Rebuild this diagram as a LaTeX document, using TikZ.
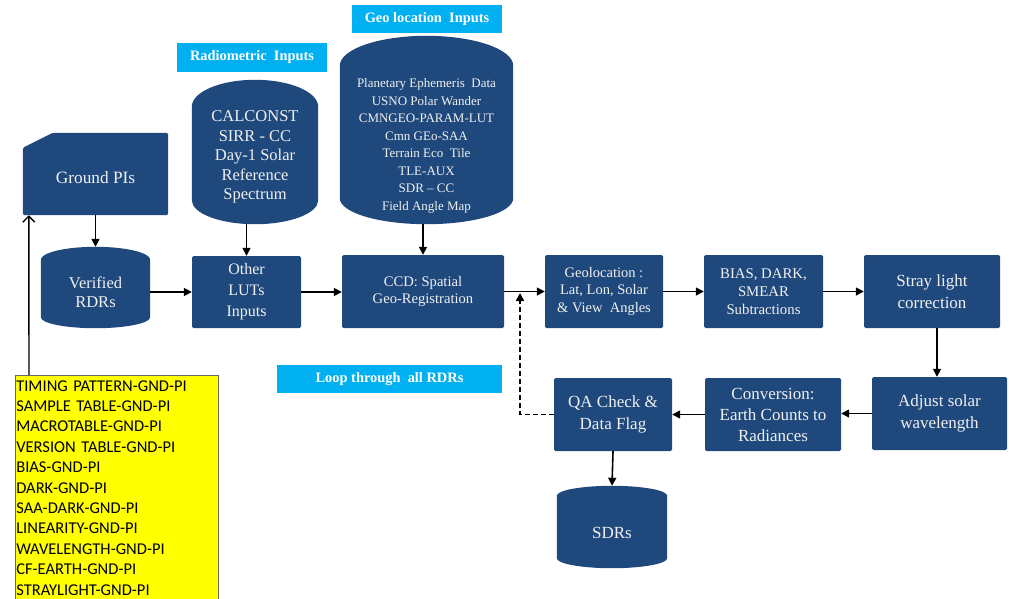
\documentclass[tikz,border=0pt]{standalone}
\usepackage{fontspec}
\setmainfont{Liberation Serif}
\newfontfamily\listfont{Carlito}
\usetikzlibrary{arrows.meta,backgrounds,calc}

\definecolor{boxblue}{RGB}{31,73,125}
\definecolor{tagcyan}{RGB}{0,176,240}
\definecolor{notefill}{RGB}{255,255,0}
\definecolor{boxtext}{RGB}{240,240,240}

\tikzset{
  proc/.style={fill=boxblue, rounded corners=1.5pt, text=boxtext, align=center, inner sep=0pt},
  store/.style={text=boxtext, align=center, inner sep=0pt},
  tag/.style={fill=tagcyan, text=white, inner sep=0pt, font=\bfseries\fontsize{14.4}{16}\selectfont},
  flow/.style={line width=1.6pt, -{Triangle[length=8pt,width=8pt]}},
  loopback/.style={flow, dash pattern=on 5pt off 3pt},
  feed/.style={line width=1.4pt, -{Straight Barb[length=6pt,width=12pt]}}
}

% filled cylinder behind a storage node:
% #1 node, #2 top radius, #3 bottom radius, #4 how far the top rises above the node
\newcommand\cylbody[4]{%
  \path let \p1=(#1.north west), \p2=(#1.south east) in
    [fill=boxblue]
    (\x1,\y1+#4-#2) -- (\x1,\y2+#3)
    arc[start angle=180, end angle=360, x radius={(\x2-\x1)/2}, y radius=#3]
    -- (\x2,\y1+#4-#2)
    arc[start angle=0, end angle=180, x radius={(\x2-\x1)/2}, y radius=#2]
    -- cycle;}

\begin{document}
\begin{tikzpicture}[x=1pt, y=-1pt]
\useasboundingbox (0,0) rectangle (1009,598);

% section tags
\node[tag, minimum width=150pt, minimum height=28pt] (geotag) at (427,19) {Geo location\ \ Inputs};
\node[tag, minimum width=150pt, minimum height=29pt] (radtag) at (252,57.5) {Radiometric\ \ Inputs};
\node[tag, minimum width=225pt, minimum height=28pt] (looptag) at (389.5,379) {Loop through\ \ all RDRs};

% inputs
\node[store, minimum width=145pt, minimum height=74pt, font=\fontsize{17.3}{20}\selectfont] (ground) at (95.5,178) {Ground PIs};
\node[store, minimum width=109pt, minimum height=71pt, font=\fontsize{16.5}{18.5}\selectfont] (ver) at (95.5,292.5) {Verified\\RDRs};
\node[store, minimum width=126pt, minimum height=134pt, font=\fontsize{16.5}{19.5}\selectfont] (calc) at (255,157)
  {CALCONST\\SIRR - CC\\Day-1 Solar\\Reference\\Spectrum};
\node[store, minimum width=173pt, minimum height=156pt, font=\fontsize{13}{17.5}\selectfont] (geo) at (426.5,146)
  {Planetary Ephemeris\ \ Data\\USNO Polar Wander\\CMNGEO-PARAM-LUT\\Cmn GEo-SAA\\Terrain Eco\ \ Tile\\TLE-AUX\\SDR -- CC\\Field Angle Map};

% processing chain
\node[proc, minimum width=109pt, minimum height=72pt, font=\fontsize{16}{21}\selectfont] (oth) at (246.5,292) {Other\\LUTs\\Inputs};
\node[proc, minimum width=162pt, minimum height=73pt, font=\fontsize{14.6}{17.7}\selectfont] (ccd) at (423,291.5) {CCD: Spatial\\Geo-Registration};
\node[proc, minimum width=118pt, minimum height=73pt, font=\fontsize{14.5}{17.7}\selectfont] (geoloc) at (604,291.5) {Geolocation :\\Lat, Lon, Solar\\\& View\ \ Angles};
\node[proc, minimum width=119pt, minimum height=73pt, font=\fontsize{14.8}{17.7}\selectfont] (bias) at (763.5,291.5) {BIAS, DARK,\\SMEAR\\Subtractions};
\node[proc, minimum width=136pt, minimum height=73pt, font=\fontsize{17}{21.7}\selectfont] (stray) at (932,291.5) {Stray light\\correction};
\node[proc, minimum width=135pt, minimum height=73pt, font=\fontsize{17}{21.7}\selectfont] (adj) at (939.5,413.5) {Adjust solar\\wavelength};
\node[proc, minimum width=136pt, minimum height=73pt, font=\fontsize{17}{21}\selectfont] (conv) at (773,414.5) {Conversion:\\Earth Counts to\\Radiances};
\node[proc, minimum width=118pt, minimum height=73pt, font=\fontsize{17}{22}\selectfont] (qa) at (613,414.5) {QA Check \&\\Data Flag};
\node[store, minimum width=110pt, minimum height=70pt, font=\fontsize{17}{20}\selectfont] (sdr) at (612,533) {SDRs};

% ground product list
\node[anchor=north west, fill=notefill, draw=black!60, line width=0.6pt, inner xsep=1pt, inner ysep=5pt,
      text width=201pt, align=left, font=\listfont\fontsize{16.5}{20.4}\selectfont] (gnd) at (15,375)
  {TIMING PATTERN-GND-PI\\SAMPLE TABLE-GND-PI\\MACROTABLE-GND-PI\\VERSION TABLE-GND-PI\\BIAS-GND-PI\\DARK-GND-PI\\SAA-DARK-GND-PI\\LINEARITY-GND-PI\\WAVELENGTH-GND-PI\\CF-EARTH-GND-PI\\STRAYLIGHT-GND-PI};

% shapes of the storage nodes
\begin{scope}[on background layer]
  \fill[boxblue, rounded corners=1.5pt] ([yshift=-7pt]ground.north west) -- ([xshift=30pt,yshift=8pt]ground.north west)
    -- ([yshift=8pt]ground.north east) -- (ground.south east) -- (ground.south west) -- cycle;
  \cylbody{ver}{13pt}{11pt}{10pt}
  \cylbody{calc}{27pt}{24pt}{10pt}
  \cylbody{geo}{30pt}{26pt}{32pt}
  \cylbody{sdr}{10pt}{10pt}{12pt}
\end{scope}

% connectors
\coordinate (junc) at (520,292);
\draw[feed] ([xshift=14pt]gnd.north west) -- ([xshift=6pt]ground.south west);
\draw[flow] (ground.south) -- ([yshift=10pt]ver.north);
\draw[flow] (ver.east |- oth.west) -- (oth.west);
\draw[flow] (calc.south -| oth.north) -- (oth.north);
\draw[flow] (oth.east) -- (ccd.west |- oth.east);
\draw[flow] (geo.south -| ccd.north) -- (ccd.north);
\draw[flow] (ccd.east) -- (geoloc.west);
\draw[flow] (geoloc.east) -- (bias.west);
\draw[flow] (bias.east) -- (stray.west);
\draw[flow] ([xshift=5pt]stray.south) -- ([xshift=5pt]stray.south |- adj.north);
\draw[flow] (adj.west) -- (conv.east |- adj.west);
\draw[flow] (conv.west) -- (qa.east);
\draw[flow] (qa.south) -- ([yshift=12pt]sdr.north);
\draw[loopback] (qa.west) -| ([yshift=-1pt]junc);
\end{tikzpicture}
\end{document}
